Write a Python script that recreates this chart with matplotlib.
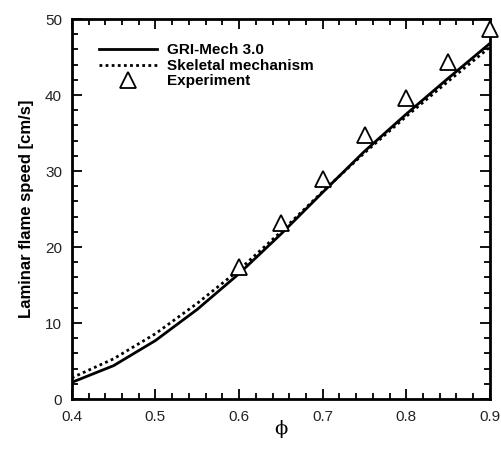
import matplotlib
matplotlib.use("Agg")
import matplotlib.pyplot as plt
from matplotlib.ticker import MultipleLocator

phi = [0.40, 0.45, 0.50, 0.55, 0.60, 0.65, 0.70, 0.75, 0.80, 0.85, 0.90]
gri_mech = [2.2, 4.4, 7.7, 11.8, 16.5, 21.7, 27.2, 32.6, 37.5, 42.2, 46.8]
skeletal = [2.8, 5.3, 8.6, 12.6, 17.0, 22.0, 27.3, 32.4, 37.2, 41.8, 46.3]

phi_exp = [0.60, 0.65, 0.70, 0.75, 0.80, 0.85, 0.90]
speed_exp = [17.4, 23.2, 29.0, 34.7, 39.6, 44.4, 48.7]

plt.rcParams['font.family'] = ['Liberation Sans', 'DejaVu Sans']

fig = plt.figure(figsize=(5.02, 4.53), dpi=100)
ax = fig.add_axes([0.143, 0.119, 0.833, 0.839])

ax.plot(phi, gri_mech, color='black', lw=2.0, label='GRI-Mech 3.0')
ax.plot(phi, skeletal, color='black', lw=2.0, ls=(0, (1.0, 1.2)), label='Skeletal mechanism')
ax.plot(phi_exp, speed_exp, ls='none', marker='^', ms=11, mfc='white', mec='black',
        mew=1.3, label='Experiment', clip_on=False, zorder=5)

ax.set_xlim(0.4, 0.9)
ax.set_ylim(0, 50)
ax.xaxis.set_major_locator(MultipleLocator(0.1))
ax.xaxis.set_minor_locator(MultipleLocator(0.02))
ax.yaxis.set_major_locator(MultipleLocator(10))
ax.yaxis.set_minor_locator(MultipleLocator(2))
ax.xaxis.set_major_formatter(plt.FuncFormatter(lambda v, p: f"{v:.1f}"))

ax.tick_params(which='both', direction='in', top=True, right=True, labelsize=11,
               width=1.3, labelcolor='#222222')
ax.tick_params(which='major', length=7)
ax.tick_params(axis='x', which='major', pad=8)
ax.tick_params(axis='y', which='major', pad=7)
ax.tick_params(which='minor', length=4)
for s in ax.spines.values():
    s.set_linewidth(2)

ax.set_xlabel('ϕ', fontsize=14, family='DejaVu Serif', labelpad=-3)
ax.set_ylabel('Laminar flame speed [cm/s]', fontsize=12, fontweight='bold', labelpad=8)

leg = ax.legend(loc='upper left', bbox_to_anchor=(0.042, 0.96), frameon=False,
                prop={'weight': 'bold', 'size': 11}, handlelength=3.8,
                handletextpad=0.65, labelspacing=0.1, borderaxespad=0.2)

fig.savefig('out.png', dpi=100)
